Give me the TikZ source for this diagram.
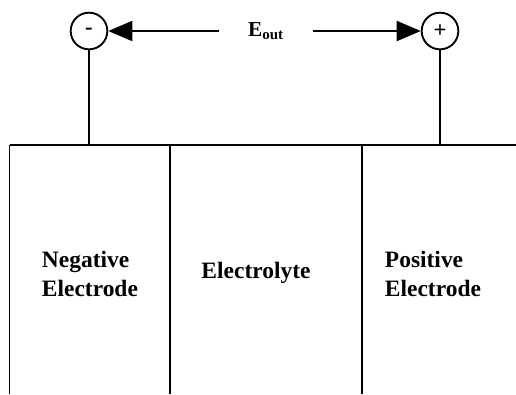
\documentclass[tikz,border=0pt]{standalone}
\usepackage{fontspec}
\setmainfont{Liberation Serif}
\usetikzlibrary{arrows.meta}

\begin{document}
\begin{tikzpicture}[x=0.75pt, y=-0.75pt, line width=1.4pt,
  term/.style={draw, circle, minimum size=27.5pt, inner sep=0pt, font=\fontsize{17}{17}\selectfont\bfseries},
  cell/.style={font=\fontsize{17.6}{22}\selectfont\bfseries, align=left, inner sep=0pt},
  tip/.style={-{Triangle[length=18pt,width=15pt]}}]
  \useasboundingbox (0,0) rectangle (516,394);

  % Terminals and the output voltage between them
  \node[term] (neg) at (89,31) {-};
  \node[term] (pos) at (440,31) {+};
  \node[minimum width=69pt, inner sep=0pt, font=\fontsize{16}{16}\selectfont\bfseries] (eout) at (266,31) {E\textsubscript{out}};
  \draw[tip] (eout.west) -- (neg);
  \draw[tip] (eout.east) -- (pos);

  % Cell: top edge and dividers
  \coordinate (tl) at (9.5,145);
  \coordinate (tr) at (516,145);
  \draw (tl) -- (tr);
  \foreach \x in {9.5,170,362} {
    \draw (\x,145) -- (\x,394);
  }

  % Leads from the terminals
  \draw (neg) -- (neg |- tl);
  \draw (pos) -- (pos |- tl);

  % Layer names
  \node[cell, anchor=west] (negel) at (41,274) {Negative\\Electrode};
  \node[cell] (elyte) at (256,273) {Electrolyte};
  \node[cell, anchor=west] (posel) at (384,274) {Positive\\Electrode};
\end{tikzpicture}
\end{document}
